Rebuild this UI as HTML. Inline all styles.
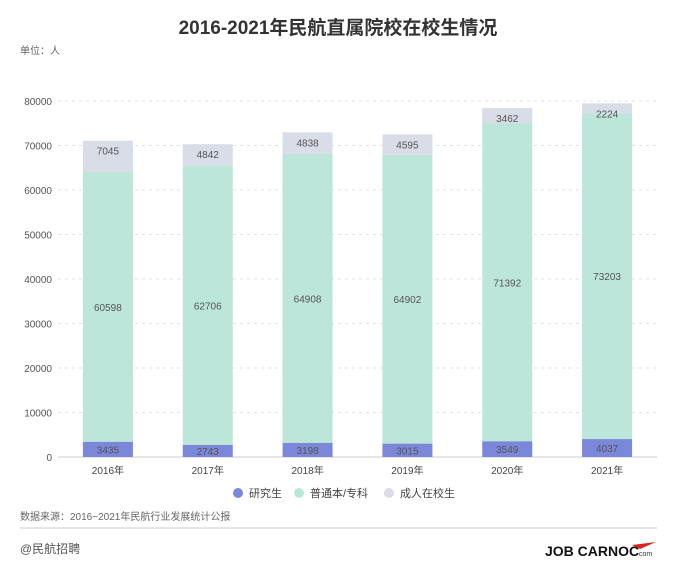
<!DOCTYPE html>
<html><head><meta charset="utf-8"><style>
body{margin:0;background:#fff;width:677px;height:575px;overflow:hidden;font-family:"Liberation Sans","Noto Sans CJK SC",sans-serif;}
</style></head><body>
<svg id="c" width="677" height="575" xmlns="http://www.w3.org/2000/svg">
<text x="338" y="34" text-anchor="middle" font-size="19" font-weight="bold" fill="#333" font-family="Liberation Sans, Noto Sans CJK SC, sans-serif">2016-2021年民航直属院校在校生情况</text>
<text x="20" y="54" font-size="10" fill="#666" font-family="Liberation Sans, Noto Sans CJK SC, sans-serif">单位：人</text>
<g id="grid"></g><g id="bars"></g>
<g font-size="11" fill="#444" font-family="Liberation Sans, Noto Sans CJK SC, sans-serif">
<circle cx="238" cy="493" r="5" fill="#7b87d9"/><text x="249" y="497">研究生</text>
<circle cx="299" cy="493" r="5" fill="#bde6da"/><text x="310" y="497">普通本/专科</text>
<circle cx="389" cy="493" r="5" fill="#d8dde7"/><text x="400" y="497">成人在校生</text>
</g>
<text x="20" y="520" font-size="10" fill="#666" font-family="Liberation Sans, Noto Sans CJK SC, sans-serif">数据来源：2016~2021年民航行业发展统计公报</text>
<line x1="20" y1="528" x2="657" y2="528" stroke="#ccc" stroke-width="1"/>
<text x="20" y="553" font-size="12" fill="#555" font-family="Liberation Sans, Noto Sans CJK SC, sans-serif">@民航招聘</text>
<g><text x="545" y="556" font-size="14" font-weight="bold" fill="#111" font-family="Liberation Sans, sans-serif">JOB CARNOC</text><text x="639" y="556" font-size="7" fill="#333" font-family="Liberation Sans, sans-serif">com</text><path d="M632 545 L656 542 L640 549 Z" fill="#d22"/></g>
</svg>
<script>
const years=["2016年","2017年","2018年","2019年","2020年","2021年"];
const graduate=[3435,2743,3198,3015,3549,4037];
const undergrad=[60598,62706,64908,64902,71392,73203];
const adult=[7045,4842,4838,4595,3462,2224];
const yTicks=[0,10000,20000,30000,40000,50000,60000,70000,80000];
const NS="http://www.w3.org/2000/svg";
const x0=58,x1=657,yb=457,yt=101,ymax=80000;
const y=v=>yb-(v/ymax)*(yb-yt);
const bw=(x1-x0)/years.length;
const xc=i=>x0+bw*(i+0.5);
function mk(t,a,p){const e=document.createElementNS(NS,t);for(const k in a)e.setAttribute(k,a[k]);p.appendChild(e);return e;}
const grid=document.getElementById('grid'),bars=document.getElementById('bars');
const ff="Liberation Sans, Noto Sans CJK SC, sans-serif";
yTicks.forEach(v=>{
 const l=mk('line',{x1:x0,x2:x1,y1:y(v),y2:y(v),stroke:v===0?'#ccc':'#e3e3e3','stroke-dasharray':v===0?'':'3,4'},grid);
 
 
 const t=mk('text',{x:52,y:y(v)+4,'text-anchor':'end','font-size':10,fill:'#555','font-family':ff},grid);t.textContent=v;
 
 
});
const series=[[graduate,'#7b87d9','graduate'],[undergrad,'#bde6da','undergrad'],[adult,'#d8dde7','adult']];
years.forEach((yr,i)=>{
 let base=0;
 series.forEach(([arr,col,nm])=>{
  const v=arr[i],top=base+v;
  const r=mk('rect',{x:xc(i)-25,width:50,y:y(top),height:y(base)-y(top),fill:col},bars);
  
  
  const ly=nm==='adult'?y(top)+14:(y(base)+y(top))/2+4;
  const t=mk('text',{x:xc(i),y:ly,'text-anchor':'middle','font-size':10,fill:'#555','font-family':ff},bars);t.textContent=v;
  
  
  base=top;
 });
 const t=mk('text',{x:xc(i),y:474,'text-anchor':'middle','font-size':10,fill:'#444','font-family':ff},bars);t.textContent=yr;
 
 
});
</script>
</body></html>
